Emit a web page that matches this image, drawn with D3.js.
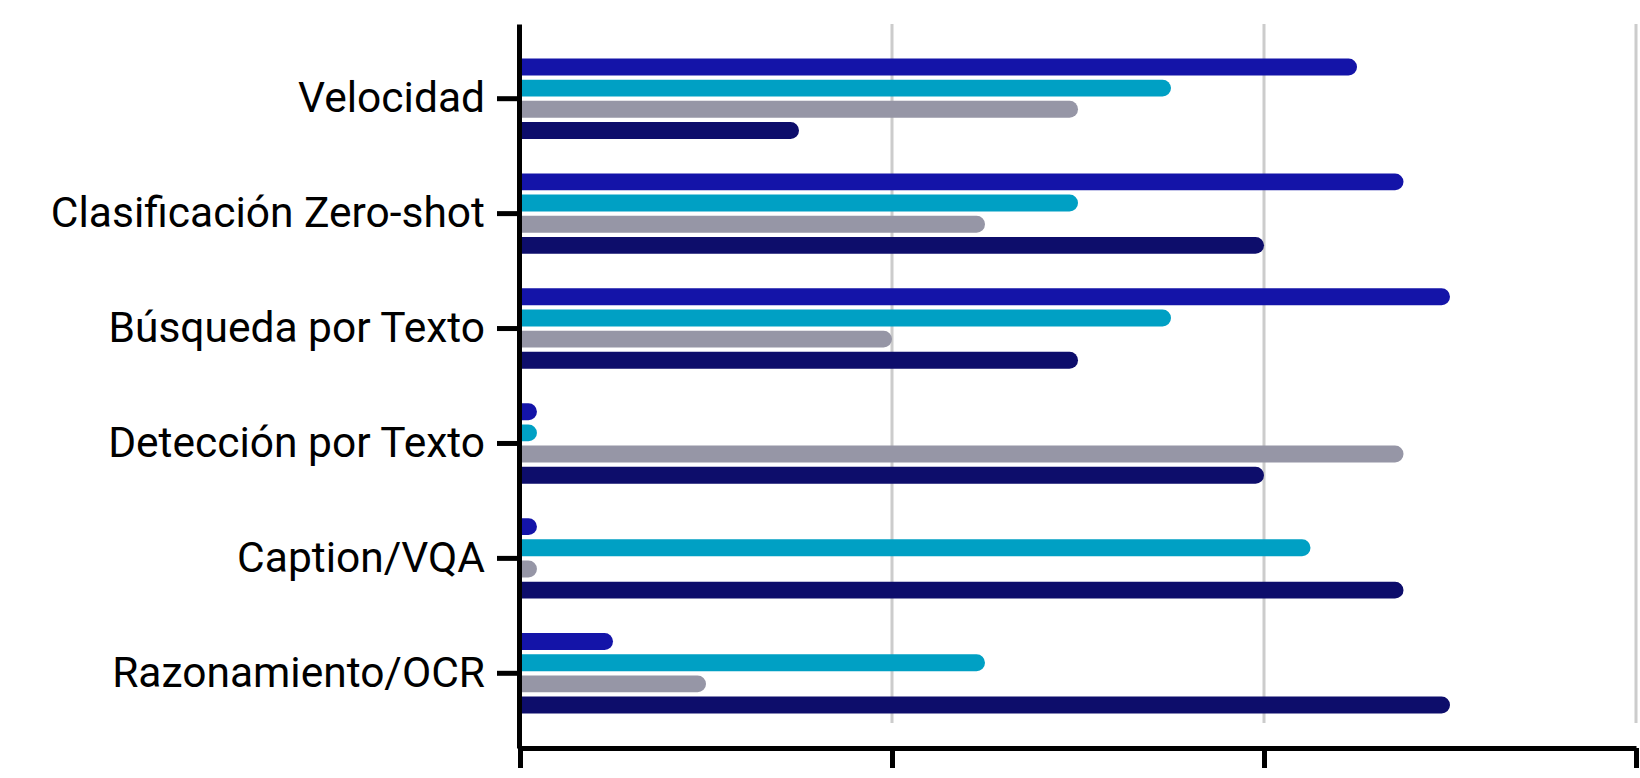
<!DOCTYPE html>
<html>
<head>
<meta charset="utf-8">
<script src="https://cdn.jsdelivr.net/npm/d3@7"></script>
<style>
  html, body { margin: 0; padding: 0; background: #fff; }
  svg { display: block; font-family: Roboto, "Noto Sans", sans-serif; }
</style>
</head>
<body>
<svg id="chart" width="1640" height="778"></svg>
<script>
// categories and per-series scores (0-6 axis, ticks every 2)
var categories = ["Velocidad", "Clasificación Zero-shot", "Búsqueda por Texto",
                  "Detección por Texto", "Caption/VQA", "Razonamiento/OCR"];
var seriesNames = ["serie1", "serie2", "serie3", "serie4"];
var serie1 = [4.5, 4.75, 5, 0, 0, 0.5];
var serie2 = [3.5, 3, 3.5, 0, 4.25, 2.5];
var serie3 = [3, 2.5, 2, 4.75, 0, 1];
var serie4 = [1.5, 4, 3, 4, 4.75, 5];
var xTicks = [0, 2, 4, 6];

var seriesValues = { serie1: serie1, serie2: serie2, serie3: serie3, serie4: serie4 };
var colors = { serie1: "#1414a8", serie2: "#00a0c4", serie3: "#9696a6", serie4: "#0d0d6b" };

var svg = d3.select("#chart");

var x = d3.scaleLinear().domain([0, 6]).range([520, 1636]);
var y0 = d3.scaleBand().domain(categories).range([24, 748])
    .paddingInner(0.3).paddingOuter(0.3);
var y1 = d3.scaleBand().domain(seriesNames).range([0, y0.bandwidth()])
    .paddingInner(0.2);

// gridlines
svg.append("g").selectAll("line")
    .data(xTicks.filter(function (d) { return d > 0; }))
    .enter().append("line")
    .attr("x1", function (d) { return x(d); })
    .attr("x2", function (d) { return x(d); })
    .attr("y1", 24).attr("y2", 723)
    .attr("stroke", "#cccccc").attr("stroke-width", 3);

// bars with rounded right end
function barPath(x0, y, w, h) {
    var r = h / 2;
    w = Math.max(w, h);
    return "M" + x0 + "," + y + "h" + (w - r) +
        "a" + r + "," + r + " 0 0 1 " + r + "," + r +
        "a" + r + "," + r + " 0 0 1 " + (-r) + "," + r +
        "h" + (-(w - r)) + "Z";
}

var rows = [];
categories.forEach(function (c, i) {
    seriesNames.forEach(function (s) {
        rows.push({ cat: c, key: s, value: seriesValues[s][i] });
    });
});

svg.append("g").selectAll("path")
    .data(rows)
    .enter().append("path")
    .attr("fill", function (d) { return colors[d.key]; })
    .attr("d", function (d) {
        var yy = y0(d.cat) + y1(d.key);
        return barPath(x(0), yy, x(d.value) - x(0), y1.bandwidth());
    });

// x axis (labels fall below the visible area)
var xAxis = svg.append("g")
    .attr("transform", "translate(0,748)")
    .call(d3.axisBottom(x).tickValues(xTicks).tickSize(20).tickSizeOuter(0)
        .tickFormat(function () { return ""; }));
xAxis.selectAll("path, line").attr("stroke", "#000").attr("stroke-width", 5);

// y axis
var yAxis = svg.append("g")
    .attr("transform", "translate(519,0)")
    .call(d3.axisLeft(y0).tickSize(22).tickSizeOuter(0).tickPadding(12));
yAxis.selectAll("path, line").attr("stroke", "#000").attr("stroke-width", 5);
yAxis.selectAll("text")
    .attr("font-size", 42.5)
    .attr("font-family", "Roboto, sans-serif")
    .attr("fill", "#000");
</script>
</body>
</html>
